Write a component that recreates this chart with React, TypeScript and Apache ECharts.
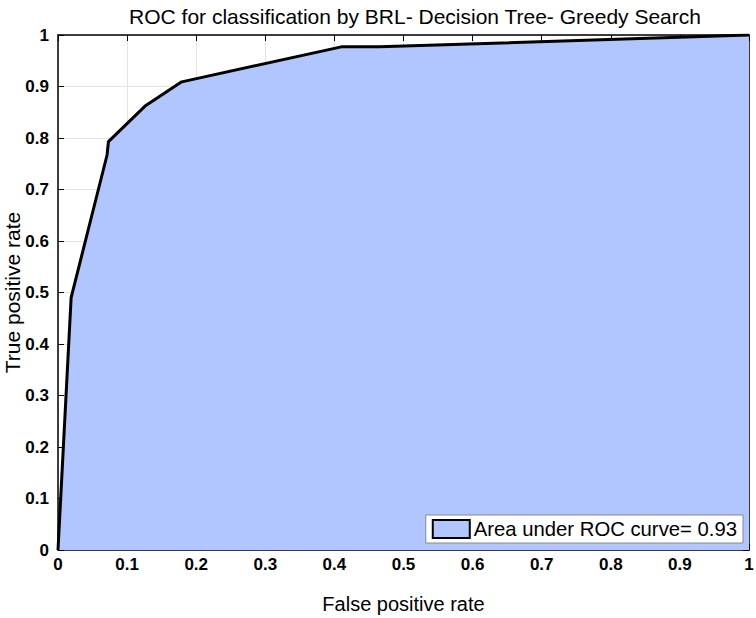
import React, { useEffect, useRef } from "react";
import * as echarts from "echarts";

const titleText = "ROC for classification by BRL- Decision Tree- Greedy Search";
const xName = "False positive rate";
const yName = "True positive rate";
const legendName = "Area under ROC curve= 0.93";
const fpr = [0, 0.019, 0.071, 0.073, 0.126, 0.179, 0.41, 0.465, 1];
const tpr = [0, 0.49, 0.767, 0.793, 0.862, 0.909, 0.977, 0.977, 1];

const FONT = "Liberation Sans, Arial, Helvetica, sans-serif";

export default function App() {
  const ref = useRef<HTMLDivElement>(null);
  useEffect(() => {
    if (!ref.current) return;
    const chart = echarts.init(ref.current, undefined, { renderer: "svg" });
    const tickLabel = (v: number) => (v === 0 ? "0" : v === 1 ? "1" : v.toFixed(1));
    const grid = { left: 58, top: 35, width: 691, height: 515, outerBoundsMode: "none", containLabel: false };
    chart.setOption({
      animation: false,
      backgroundColor: "#ffffff",
      textStyle: { fontFamily: FONT },
      title: {
        text: titleText,
        left: 410,
        textAlign: "center",
        top: 1,
        textStyle: { fontFamily: FONT, fontSize: 21, fontWeight: "normal", color: "#000" },
      },
      grid,
      legend: {
        data: [
          {
            name: legendName,
            icon: "rect",
            itemStyle: { color: "#b1c6ff", borderColor: "#000", borderWidth: 2 },
          },
        ],
        right: 13,
        bottom: 75,
        itemWidth: 37,
        itemHeight: 18,
        itemGap: 6,
        padding: [4, 6, 4, 6],
        backgroundColor: "#ffffff",
        borderColor: "#888",
        borderWidth: 1,
        borderRadius: 0,
        textStyle: { fontFamily: FONT, fontSize: 20.3, color: "#000", padding: [0, 0, 0, -1] },
      },
      xAxis: [
        {
          type: "value",
          min: 0,
          max: 1,
          interval: 0.1,
          name: xName,
          nameLocation: "middle",
          nameGap: 44,
          nameMoveOverlap: false,
          nameTextStyle: { fontFamily: FONT, fontSize: 20, color: "#000" },
          axisLine: { show: true, onZero: false, lineStyle: { color: "#000", width: 1.5 } },
          axisTick: { show: true, inside: true, length: 6, lineStyle: { color: "#000" } },
          axisLabel: {
            formatter: tickLabel,
            fontFamily: FONT,
            fontSize: 17,
            fontWeight: "bold",
            color: "#000",
            margin: 6,
          },
          splitLine: { show: true, lineStyle: { color: "#e2e2e2", width: 1 } },
        },
        {
          type: "value",
          position: "top",
          min: 0,
          max: 1,
          interval: 0.1,
          axisLine: { show: true, onZero: false, lineStyle: { color: "#000", width: 1.5 } },
          axisTick: { show: true, inside: true, length: 6, lineStyle: { color: "#000" } },
          axisLabel: { show: false },
          splitLine: { show: false },
        },
      ],
      yAxis: [
        {
          type: "value",
          min: 0,
          max: 1,
          interval: 0.1,
          name: yName,
          nameLocation: "middle",
          nameGap: 35,
          nameMoveOverlap: false,
          nameTextStyle: { fontFamily: FONT, fontSize: 21, color: "#000" },
          axisLine: { show: true, onZero: false, lineStyle: { color: "#000", width: 1.5 } },
          axisTick: { show: true, inside: true, length: 6, lineStyle: { color: "#000" } },
          axisLabel: {
            formatter: tickLabel,
            fontFamily: FONT,
            fontSize: 17,
            fontWeight: "bold",
            color: "#000",
            margin: 9,
          },
          splitLine: { show: true, lineStyle: { color: "#e2e2e2", width: 1 } },
        },
        {
          type: "value",
          position: "right",
          min: 0,
          max: 1,
          interval: 0.1,
          axisLine: { show: true, onZero: false, lineStyle: { color: "#000", width: 1.5 } },
          axisTick: { show: true, inside: true, length: 6, lineStyle: { color: "#000" } },
          axisLabel: { show: false },
          splitLine: { show: false },
        },
      ],
      series: [
        {
          name: legendName,
          type: "line",
          data: fpr.map((x, i) => [x, tpr[i]]),
          showSymbol: false,
          symbol: "none",
          lineStyle: { color: "#000", width: 3 },
          itemStyle: { color: "#b1c6ff" },
          areaStyle: { color: "#b1c6ff", opacity: 1 },
          z: 3,
        },
      ],
    });
    return () => chart.dispose();
  }, []);
  return <div ref={ref} style={{ width: 756, height: 618, position: "absolute", left: 0, top: 0 }} />;
}
